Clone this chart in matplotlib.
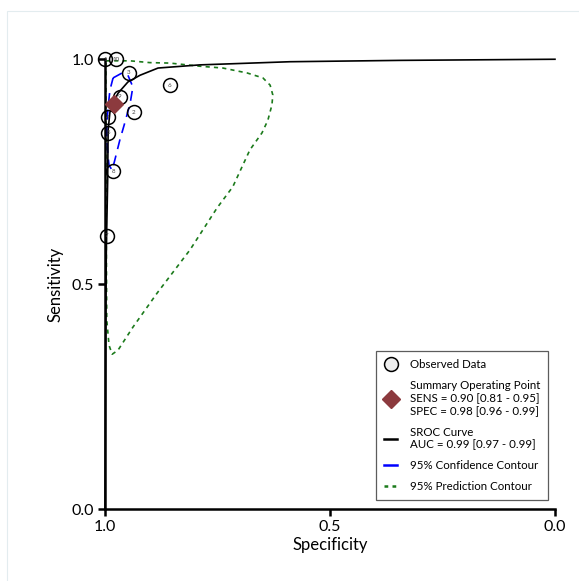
import matplotlib
matplotlib.use('Agg')
import matplotlib.pyplot as plt
from matplotlib.lines import Line2D
from matplotlib.patches import Rectangle

plt.rcParams['font.family'] = ['Lato', 'DejaVu Sans']

# Observed studies (specificity, sensitivity)
study_ids = ['1', '10', '3', '6', '9', '2', '4', '5', '8', '7']
obs_spec = [1.000, 0.976, 0.947, 0.856, 0.967, 0.936, 0.993, 0.993, 0.982, 0.996]
obs_sens = [1.000, 1.000, 0.969, 0.942, 0.916, 0.882, 0.871, 0.836, 0.751, 0.607]

# Summary operating point
sum_spec = 0.98
sum_sens = 0.90

# SROC curve
sroc_spec = [1.000, 0.999, 0.998, 0.997, 0.994, 0.993, 0.989, 0.982, 0.971,
             0.949, 0.922, 0.882, 0.789, 0.589, 0.344, 0.000]
sroc_sens = [0.000, 0.250, 0.464, 0.576, 0.731, 0.842, 0.882, 0.902, 0.924,
             0.949, 0.964, 0.980, 0.987, 0.994, 0.997, 0.9995]

# 95% confidence contour
conf_spec = [0.982, 0.962, 0.949, 0.938, 0.944, 0.956, 0.967, 0.978, 0.984,
             0.991, 0.993, 0.996, 0.996, 0.993, 0.989, 0.982]
conf_sens = [0.958, 0.969, 0.964, 0.938, 0.902, 0.858, 0.820, 0.776, 0.753,
             0.764, 0.782, 0.820, 0.858, 0.893, 0.931, 0.958]

# 95% prediction contour
pred_spec = [0.998, 0.944, 0.900, 0.856, 0.789, 0.738, 0.684, 0.649, 0.633,
             0.627, 0.629, 0.638, 0.651, 0.678, 0.716, 0.751, 0.811, 0.884,
             0.938, 0.971, 0.984, 0.991, 0.996, 0.997, 0.998, 0.998, 0.998]
pred_sens = [0.996, 0.996, 0.992, 0.991, 0.984, 0.980, 0.969, 0.958, 0.942,
             0.920, 0.898, 0.864, 0.836, 0.798, 0.716, 0.669, 0.576, 0.480,
             0.404, 0.353, 0.344, 0.364, 0.420, 0.576, 0.798, 0.953, 0.996]

green = '#1b7a1b'
maroon = '#8c3a3e'

fig = plt.figure(figsize=(5.79, 5.81), dpi=100)
fig.add_artist(Rectangle((0.0121, -0.2), 1.5, 1.181, transform=fig.transFigure,
                         fill=False, edgecolor='#e3ecef', linewidth=0.8))
ax = fig.add_axes([0.1813, 0.1239, 0.7772, 0.7745])

ax.plot(sroc_spec, sroc_sens, color='black', lw=1.2, clip_on=False, zorder=3)
ax.plot(pred_spec, pred_sens, color=green, lw=1.2, ls=(0, (2.5, 2.5)),
        clip_on=False, zorder=2)
ax.plot(conf_spec, conf_sens, color='blue', lw=1.2, ls=(0, (6, 4)),
        clip_on=False, zorder=2)
ax.plot(obs_spec, obs_sens, 'o', ms=10, mfc='none', mec='black', mew=1.1,
        clip_on=False, zorder=4)
for sid, sx, sy in zip(study_ids, obs_spec, obs_sens):
    ax.text(sx, sy, sid, fontsize=4.5, color='#444444', ha='center',
            va='center', zorder=5, clip_on=False)
ax.plot([sum_spec], [sum_sens], 'D', ms=9, color=maroon, clip_on=False,
        zorder=6)

ax.set_xlim(1, 0)
ax.set_ylim(0, 1)
ax.set_xticks([1.0, 0.5, 0.0])
ax.set_xticklabels(['1.0', '0.5', '0.0'])
ax.set_yticks([0.0, 0.5, 1.0])
ax.set_yticklabels(['0.0', '0.5', '1.0'])
for side in ['top', 'right']:
    ax.spines[side].set_visible(False)
for side in ['left', 'bottom']:
    ax.spines[side].set_linewidth(1.8)
ax.tick_params(width=1.8, length=5, labelsize=11.5, pad=3)
ax.set_xlabel('Specificity', fontsize=12, labelpad=2)
ax.set_ylabel('Sensitivity', fontsize=12, labelpad=6)

handles = [
    Line2D([], [], marker='o', ls='none', ms=10, mfc='#eeeeee', mec='black', mew=1.1),
    Line2D([], [], marker='D', ls='none', ms=9, color=maroon),
    Line2D([], [], color='black', lw=1.8),
    Line2D([], [], color='blue', lw=1.8),
    Line2D([], [], color=green, lw=1.8, ls=(0, (1.5, 1.7))),
]
labels = [
    'Observed Data',
    'Summary Operating Point\nSENS = 0.90 [0.81 - 0.95]\nSPEC = 0.98 [0.96 - 0.99]',
    'SROC Curve\nAUC = 0.99 [0.97 - 0.99]',
    '95% Confidence Contour',
    '95% Prediction Contour',
]
leg = ax.legend(handles, labels, loc='lower right',
                bbox_to_anchor=(548 / 579, 1 - 500 / 581),
                bbox_transform=fig.transFigure, fontsize=8.3, frameon=True,
                fancybox=False, edgecolor='#333333', handlelength=1.1,
                handletextpad=1.1, labelspacing=0.85, borderpad=0.7,
                borderaxespad=0)
leg.get_frame().set_linewidth(0.9)

fig.savefig('out.png', dpi=100)
